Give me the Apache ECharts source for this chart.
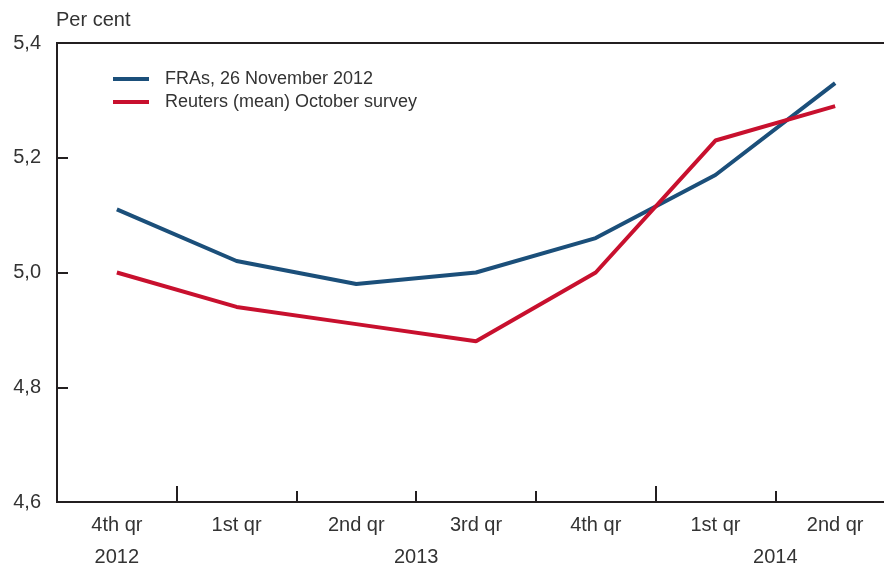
<!DOCTYPE html>
<html>
<head>
<meta charset="UTF-8">
<title></title>
<style>
  html, body { margin: 0; padding: 0; background: #fff; }
  #main { width: 884px; height: 568px; }
</style>
</head>
<body>
<div id="main"></div>
<script type="text/javascript" src="https://cdn.jsdelivr.net/npm/echarts@6/dist/echarts.min.js"></script>
<script type="text/javascript">
  // 数据
  var quarters = ['4th qr', '1st qr', '2nd qr', '3rd qr', '4th qr', '1st qr', '2nd qr'];
  var yearTicks = ['', '2012', '', '', '', '', '2013', '', '', '', '', '', '2014', '', ''];
  var fras = [5.11, 5.02, 4.98, 5.00, 5.06, 5.17, 5.33];
  var reuters = [5.00, 4.94, 4.91, 4.88, 5.00, 5.23, 5.29];

  var axisColor = '#231f20';
  var textColor = '#333333';
  var font = 'Liberation Sans, Arial, sans-serif';

  var myChart = echarts.init(document.getElementById('main'));
  var option = {
    animation: false,
    color: ['#1b4f7a', '#c8102e'],
    textStyle: { fontFamily: font },
    legend: {
      orient: 'vertical',
      left: 113,
      top: 70,
      padding: 0,
      icon: 'rect',
      itemWidth: 36,
      itemHeight: 4,
      itemGap: 5,
      textStyle: { fontSize: 18, color: textColor, fontFamily: font, padding: [0, 0, 0, 11] },
      data: ['FRAs, 26 November 2012', 'Reuters (mean) October survey']
    },
    grid: {
      left: 57,
      top: 43,
      width: 838,
      height: 459,
      outerBoundsMode: 'none',
      containLabel: false,
      show: true,
      borderColor: axisColor,
      borderWidth: 2
    },
    xAxis: [{
      type: 'category',
      data: quarters,
      boundaryGap: true,
      axisLine: { lineStyle: { color: axisColor, width: 2 } },
      axisTick: { show: true, inside: true, length: 11, lineStyle: { color: axisColor, width: 2 } },
      axisLabel: { color: textColor, fontSize: 20, margin: 13, fontFamily: font }
    }, {
      // 年份分界的长刻度
      type: 'category',
      data: quarters,
      boundaryGap: true,
      position: 'bottom',
      axisLine: { show: false },
      axisLabel: { show: false },
      axisTick: {
        show: true, inside: true, length: 16,
        interval: function (i) { return i === 1 || i === 5; },
        lineStyle: { color: axisColor, width: 2 }
      }
    }, {
      // 年份标签
      type: 'category',
      data: yearTicks,
      boundaryGap: false,
      position: 'bottom',
      axisLine: { show: false },
      axisTick: { show: false },
      axisLabel: { interval: 0, color: textColor, fontSize: 20, margin: 45, fontFamily: font }
    }],
    yAxis: {
      type: 'value',
      min: 4.6,
      max: 5.4,
      interval: 0.2,
      name: 'Per cent',
      nameLocation: 'end',
      nameGap: 13,
      nameTextStyle: { color: textColor, fontSize: 20, align: 'left', padding: [0, 0, 0, -1], fontFamily: font },
      splitLine: { show: false },
      axisLine: { show: true, lineStyle: { color: axisColor, width: 2 } },
      axisTick: { show: true, inside: true, length: 11, lineStyle: { color: axisColor, width: 2 } },
      axisLabel: {
        color: textColor, fontSize: 20, margin: 16, fontFamily: font,
        formatter: function (v) { return v.toFixed(1).replace('.', ','); }
      }
    },
    series: [{
      name: 'FRAs, 26 November 2012',
      type: 'line',
      data: fras,
      showSymbol: false,
      lineStyle: { width: 4 }
    }, {
      name: 'Reuters (mean) October survey',
      type: 'line',
      data: reuters,
      showSymbol: false,
      lineStyle: { width: 4 }
    }]
  };
  myChart.setOption(option);
</script>
</body>
</html>
